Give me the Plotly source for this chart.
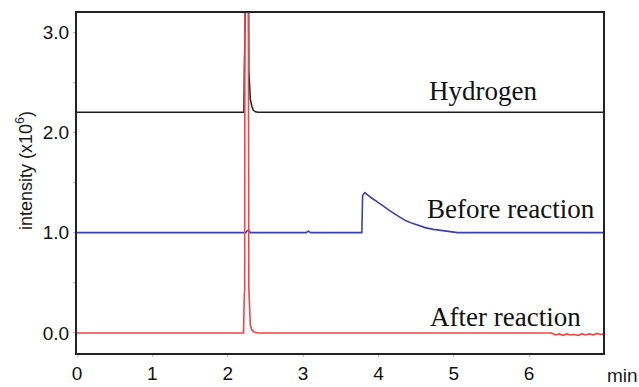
import plotly.graph_objects as go

# ---- data (time in min, intensity in 10^6) ----
hydrogen_x = [0.0, 2.215, 2.22, 2.23, 2.27, 2.28, 2.29, 2.30, 2.32, 2.34, 2.37, 2.40, 7.0]
hydrogen_y = [2.2, 2.2, 2.6, 5.0, 5.0, 2.62, 2.45, 2.33, 2.26, 2.22, 2.205, 2.2, 2.2]

before_x = [0.0, 2.24, 2.26, 2.28, 2.30, 3.04, 3.07, 3.10, 3.78, 3.79, 3.82, 3.90, 4.00,
            4.07, 4.15, 4.22, 4.29, 4.36, 4.44, 4.51, 4.62, 4.73, 4.84, 4.95, 5.05, 7.0]
before_y = [1.0, 1.0, 1.02, 1.025, 1.0, 1.0, 1.015, 1.0, 1.0, 1.37, 1.40, 1.35, 1.30,
            1.26, 1.22, 1.185, 1.15, 1.12, 1.095, 1.075, 1.05, 1.033, 1.02, 1.01, 1.0, 1.0]

after_x = [0.0, 2.21, 2.22, 2.225, 2.23, 2.27, 2.28, 2.29, 2.30, 2.32, 2.35, 2.40, 6.30,
           6.35, 6.40, 6.45, 6.50, 6.55, 6.60, 6.65, 6.70, 6.75, 6.80, 6.85, 6.90, 6.95, 7.0]
after_y = [0.0, 0.0, 0.38, 0.42, 5.0, 5.0, 0.45, 0.2, 0.08, 0.03, 0.01, 0.0, 0.0,
           -0.02, -0.01, -0.025, -0.01, -0.02, -0.015, -0.025, -0.01, -0.02, -0.01, -0.02,
           -0.005, -0.015, -0.01]

y_ticks = [0, 1, 2, 3]
y_tick_text = ["0.0", "1.0", "2.0", "3.0"]
x_ticks = [0, 1, 2, 3, 4, 5, 6]
x_tick_text = ["0", "1", "2", "3", "4", "5", "6"]

labels = ["Hydrogen", "Before reaction", "After reaction"]
label_x = [4.65, 4.62, 4.66]
label_y = [2.41, 1.24, 0.16]

fig = go.Figure()
fig.add_trace(go.Scatter(x=hydrogen_x, y=hydrogen_y, mode="lines",
                         line=dict(color="#1e1e1e", width=1.5), hoverinfo="skip"))
fig.add_trace(go.Scatter(x=before_x, y=before_y, mode="lines",
                         line=dict(color="#3b40ad", width=1.6), hoverinfo="skip"))
fig.add_trace(go.Scatter(x=after_x, y=after_y, mode="lines",
                         line=dict(color="#f04545", width=1.6), hoverinfo="skip"))

for t, lx, ly in zip(labels, label_x, label_y):
    fig.add_annotation(x=lx, y=ly, text=t, showarrow=False, xanchor="left", yanchor="middle",
                       font=dict(family="Liberation Serif", size=27, color="#111"))

fig.add_annotation(xref="paper", yref="paper", x=1.0, y=0, xshift=19, yshift=-22,
                   text="min", showarrow=False, xanchor="center", yanchor="middle",
                   font=dict(family="Liberation Sans", size=19, color="#1a1a1a"))
fig.add_annotation(xref="paper", yref="paper", x=0, y=(353 - 171) / 340, xshift=-53,
                   text="intensity (x10<sup>6</sup>)", showarrow=False, textangle=-90,
                   xanchor="center", yanchor="middle",
                   font=dict(family="Liberation Sans", size=18, color="#1a1a1a"))

fig.update_layout(
    width=639, height=387, autosize=False,
    margin=dict(l=77, r=36, t=13, b=34, autoexpand=False),
    paper_bgcolor="white", plot_bgcolor="white",
    showlegend=False,
    xaxis=dict(range=[0, 6.98], tickvals=x_ticks, ticktext=x_tick_text, automargin=False,
               showgrid=False, zeroline=False, showline=True, mirror=True,
               linecolor="#222", linewidth=2, ticks="outside", ticklen=2, tickcolor="#bbb",
               tickfont=dict(family="Liberation Sans", size=19, color="#111")),
    yaxis=dict(range=[-0.2, 3.19], tickvals=y_ticks, ticktext=y_tick_text, automargin=False,
               showgrid=False, zeroline=False, showline=True, mirror=True,
               linecolor="#222", linewidth=2, ticks="outside", ticklen=2, tickcolor="#bbb",
               minor=dict(dtick=0.5, ticks="outside", ticklen=2, tickcolor="#bbb"),
               tickfont=dict(family="Liberation Sans", size=19, color="#111")),
)

# remove the default page margin so the 639x387 figure fills the window exactly
fig.write_html("out.html",
               config={"responsive": False, "displayModeBar": False},
               post_script="document.body.style.margin='0';document.body.style.overflow='hidden';")
